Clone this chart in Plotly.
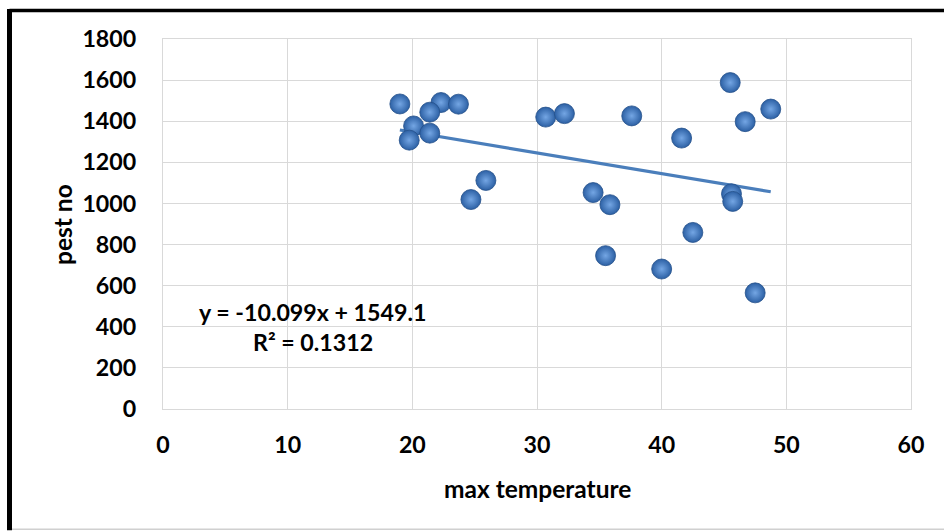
import plotly.graph_objects as go

max_temp = [19.0, 22.3, 23.7, 21.4, 20.1, 21.4, 19.75, 25.9, 24.7, 30.7, 32.2, 34.5,
            35.85, 37.6, 45.5, 48.75, 46.7, 41.6, 45.6, 45.7, 42.5, 35.5, 40.0, 47.5]
pest_no = [1484, 1491, 1483, 1444, 1377, 1342, 1308, 1112, 1019, 1420, 1437, 1053,
           994, 1426, 1588, 1459, 1398, 1318, 1047, 1010, 859, 746, 681, 565]

slope = -10.099
intercept = 1549.1
eq_text = "y = -10.099x + 1549.1"
r2_text = "R² = 0.1312"
x_ticks = [0, 10, 20, 30, 40, 50, 60]
y_ticks = [0, 200, 400, 600, 800, 1000, 1200, 1400, 1600, 1800]

W, H = 944, 531
L, R, T, B = 163, 911, 39, 409.5
FONT = "Lato"
TICK_SIZE = 23.2
TITLE_SIZE = 24.5

xmin, xmax = min(max_temp), max(max_temp)
trend_x = [xmin, xmax]
trend_y = [slope * v + intercept for v in trend_x]

fig = go.Figure()
fig.add_trace(go.Scatter(
    x=trend_x, y=trend_y, mode="lines",
    line=dict(color="#4a7ebb", width=3.2), hoverinfo="skip", showlegend=False))
fig.add_trace(go.Scatter(
    x=max_temp, y=pest_no, mode="markers",
    marker=dict(size=20, color="#2c60a4",
                gradient=dict(type="radial", color="#74a6e4"),
                line=dict(width=0.8, color="#25508a")),
    showlegend=False))

def px_x(p):
    return (p - L) / (R - L)

def px_y(p):
    return (B - p) / (B - T)

fig.add_annotation(x=12.03, y=474, xref="x", yref="y", text=eq_text, showarrow=False,
                   xanchor="center", yanchor="middle",
                   font=dict(family=FONT, size=TICK_SIZE, color="black", weight="bold"))
fig.add_annotation(x=12.03, y=328, xref="x", yref="y", text=r2_text, showarrow=False,
                   xanchor="center", yanchor="middle",
                   font=dict(family=FONT, size=TICK_SIZE, color="black", weight="bold"))

fig.add_annotation(x=0.5, y=px_y(489), xref="paper", yref="paper", text="max temperature",
                   xanchor="center", yanchor="middle", showarrow=False,
                   font=dict(family=FONT, size=TITLE_SIZE, color="black", weight="bold"))
fig.add_annotation(x=px_x(62), y=0.5, xref="paper", yref="paper", text="pest no",
                   xanchor="center", yanchor="middle", textangle=-90, showarrow=False,
                   font=dict(family=FONT, size=TITLE_SIZE, color="black", weight="bold"))

# outer border
fig.add_shape(type="line", xref="paper", yref="paper", x0=px_x(9.5), x1=px_x(950),
              y0=px_y(10.5), y1=px_y(10.5), line=dict(color="black", width=3.5))
fig.add_shape(type="line", xref="paper", yref="paper", x0=px_x(9.5), x1=px_x(9.5),
              y0=px_y(9), y1=px_y(531), line=dict(color="black", width=5))
fig.add_shape(type="line", xref="paper", yref="paper", x0=px_x(12), x1=px_x(950),
              y0=px_y(530), y1=px_y(530), line=dict(color="#d0d0d0", width=1.5))

axis_common = dict(showgrid=True, gridcolor="#d9d9d9", gridwidth=1.3, zeroline=False,
                   showline=True, linecolor="#d9d9d9", linewidth=1.3, mirror=True,
                   tickfont=dict(family=FONT, size=TICK_SIZE, color="black", weight="bold"))
fig.update_xaxes(range=[0, 60], tickvals=x_ticks, ticktext=[str(v) for v in x_ticks],
                 ticklabelstandoff=15, **axis_common)
fig.update_yaxes(range=[0, 1800], tickvals=y_ticks, ticktext=[str(v) for v in y_ticks],
                 ticklabelstandoff=21, **axis_common)

fig.update_layout(width=W, height=H, margin=dict(l=L, r=W - R, t=T, b=H - B),
                  plot_bgcolor="white", paper_bgcolor="white")
fig.write_html("out.html")
